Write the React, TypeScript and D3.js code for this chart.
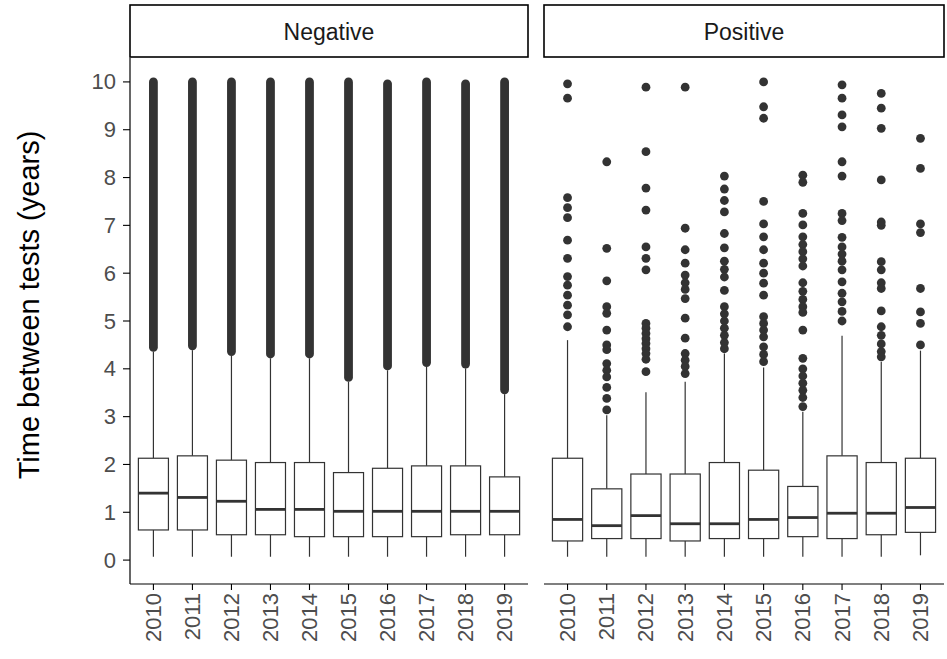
import React from "react";
import * as d3 from "d3";

const years = ["2010", "2011", "2012", "2013", "2014", "2015", "2016", "2017", "2018", "2019"];
const yTicks = [0, 1, 2, 3, 4, 5, 6, 7, 8, 9, 10];

// Negative panel box stats
const negLo = [0.07, 0.07, 0.07, 0.07, 0.07, 0.07, 0.07, 0.07, 0.07, 0.07];
const negQ1 = [0.63, 0.63, 0.53, 0.53, 0.49, 0.49, 0.49, 0.49, 0.53, 0.53];
const negMedian = [1.4, 1.31, 1.23, 1.06, 1.06, 1.02, 1.02, 1.02, 1.02, 1.02];
const negQ3 = [2.13, 2.18, 2.09, 2.04, 2.04, 1.83, 1.92, 1.97, 1.97, 1.74];
const negHi = [4.36, 4.39, 4.27, 4.22, 4.22, 3.73, 3.97, 4.04, 4.01, 3.47];
// the negative outliers are so dense they form a solid column: lowest and highest outlier
const negOutMin = [4.45, 4.48, 4.36, 4.31, 4.31, 3.82, 4.06, 4.13, 4.1, 3.56];
const negOutMax = [10.0, 10.0, 10.0, 10.0, 10.0, 10.0, 9.96, 10.0, 9.96, 10.0];

// Positive panel box stats
const posLo = [0.07, 0.07, 0.07, 0.07, 0.07, 0.07, 0.07, 0.07, 0.07, 0.1];
const posQ1 = [0.4, 0.45, 0.45, 0.4, 0.45, 0.45, 0.49, 0.45, 0.53, 0.58];
const posMedian = [0.85, 0.72, 0.93, 0.76, 0.76, 0.85, 0.89, 0.98, 0.98, 1.1];
const posQ3 = [2.13, 1.49, 1.8, 1.8, 2.04, 1.88, 1.54, 2.18, 2.04, 2.13];
const posHi = [4.6, 3.03, 3.51, 3.73, 4.32, 4.03, 3.1, 4.69, 4.15, 4.38];
const posOutliers = [
  [9.96, 9.66, 7.58, 7.37, 7.16, 6.69, 6.31, 5.93, 5.75, 5.54, 5.33, 5.13, 4.88],
  [8.33, 6.52, 5.84, 5.3, 5.16, 4.81, 4.5, 4.4, 4.11, 3.97, 3.83, 3.61, 3.38, 3.14],
  [9.89, 8.54, 7.78, 7.32, 6.55, 6.31, 6.07, 4.95, 4.85, 4.74, 4.63, 4.53, 4.42, 4.32, 4.2, 3.94],
  [9.89, 6.94, 6.49, 6.21, 5.96, 5.8, 5.66, 5.47, 5.06, 4.64, 4.32, 4.18, 4.05, 3.9],
  [8.03, 7.76, 7.52, 7.28, 6.83, 6.53, 6.25, 6.08, 5.92, 5.64, 5.3, 5.15, 5.0, 4.85, 4.7, 4.55, 4.42],
  [10.0, 9.48, 9.24, 7.5, 7.03, 6.76, 6.49, 6.21, 6.0, 5.79, 5.54, 5.09, 4.95, 4.81, 4.67, 4.46, 4.3, 4.15],
  [8.05, 7.9, 7.25, 7.01, 6.76, 6.6, 6.45, 6.3, 6.15, 5.8, 5.62, 5.45, 5.3, 5.18, 4.81, 4.22, 4.0, 3.85, 3.7, 3.55, 3.4, 3.21],
  [9.94, 9.66, 9.31, 9.06, 8.33, 8.03, 7.25, 7.1, 6.75, 6.55, 6.4, 6.25, 6.07, 5.82, 5.58, 5.4, 5.2, 5.0],
  [9.76, 9.45, 9.03, 7.95, 7.07, 7.0, 6.24, 6.07, 5.8, 5.68, 5.21, 4.88, 4.7, 4.52, 4.36, 4.25],
  [8.82, 8.19, 7.03, 6.85, 5.68, 5.19, 4.95, 4.5],
];

const W = 947;
const H = 659;
const top = 58;
const bottom = 584;
const stripTop = 5;
const panels = [
  { label: "Negative", x0: 130, x1: 528 },
  { label: "Positive", x0: 544, x1: 944 },
];
const dark = "#333333";
const font = "'Liberation Sans', Arial, sans-serif";
const r = 4.4;

const y = d3.scaleLinear().domain([-0.5, 10.5]).range([bottom, top]);

const App = () => {
  const boxes = [
    { lo: negLo, q1: negQ1, med: negMedian, q3: negQ3, hi: negHi },
    { lo: posLo, q1: posQ1, med: posMedian, q3: posQ3, hi: posHi },
  ];
  return (
    <svg width={W} height={H} style={{ position: "absolute", left: 0, top: 0, background: "#fff" }}>
      {panels.map((p, pi) => {
        const x = d3.scalePoint<string>().domain(years).range([p.x0, p.x1]).padding(0.6);
        const bw = x.step() * 0.77;
        const b = boxes[pi];
        return (
          <g key={p.label}>
            {/* strip */}
            <rect x={p.x0} y={stripTop} width={p.x1 - p.x0} height={top - 1 - stripTop} fill="#fff" stroke="#000" strokeWidth={1.6} />
            <text x={(p.x0 + p.x1) / 2} y={(stripTop + top - 1) / 2 + 1} textAnchor="middle" dominantBaseline="central" fontFamily={font} fontSize={23} fill="#1a1a1a">
              {p.label}
            </text>
            {years.map((yr, i) => {
              const cx = x(yr)!;
              return (
                <g key={yr}>
                  {pi === 0 ? (
                    <line x1={cx} x2={cx} y1={y(negOutMin[i])} y2={y(negOutMax[i])} stroke={dark} strokeWidth={2 * r} strokeLinecap="round" />
                  ) : (
                    posOutliers[i].map((v, k) => <circle key={k} cx={cx} cy={y(v)} r={r} fill={dark} />)
                  )}
                  <line x1={cx} x2={cx} y1={y(b.hi[i])} y2={y(b.q3[i])} stroke={dark} strokeWidth={1.2} />
                  <line x1={cx} x2={cx} y1={y(b.q1[i])} y2={y(b.lo[i])} stroke={dark} strokeWidth={1.2} />
                  <rect x={cx - bw / 2} y={y(b.q3[i])} width={bw} height={y(b.q1[i]) - y(b.q3[i])} fill="#fff" stroke={dark} strokeWidth={1.2} />
                  <line x1={cx - bw / 2} x2={cx + bw / 2} y1={y(b.med[i])} y2={y(b.med[i])} stroke={dark} strokeWidth={2.8} />
                  <line x1={cx} x2={cx} y1={bottom} y2={bottom + 6} stroke="#000" strokeWidth={1.1} />
                  <text
                    transform={`translate(${cx},${bottom + 9}) rotate(-90)`}
                    textAnchor="end"
                    dominantBaseline="central"
                    fontFamily={font}
                    fontSize={22}
                    fill="#4d4d4d"
                  >
                    {yr}
                  </text>
                </g>
              );
            })}
            <line x1={p.x0} x2={p.x1} y1={bottom} y2={bottom} stroke="#000" strokeWidth={1.2} />
          </g>
        );
      })}
      {/* y axis */}
      <line x1={130} x2={130} y1={top} y2={bottom} stroke="#000" strokeWidth={1.2} />
      {yTicks.map((t) => (
        <g key={t}>
          <line x1={123} x2={130} y1={y(t)} y2={y(t)} stroke="#000" strokeWidth={1.1} />
          <text x={116} y={y(t)} textAnchor="end" dominantBaseline="central" fontFamily={font} fontSize={22} fill="#4d4d4d">
            {t}
          </text>
        </g>
      ))}
      <text
        transform={`translate(29,305) rotate(-90)`}
        textAnchor="middle"
        dominantBaseline="central"
        fontFamily={font}
        fontSize={29}
        fill="#000"
      >
        Time between tests (years)
      </text>
    </svg>
  );
};

export default App;
